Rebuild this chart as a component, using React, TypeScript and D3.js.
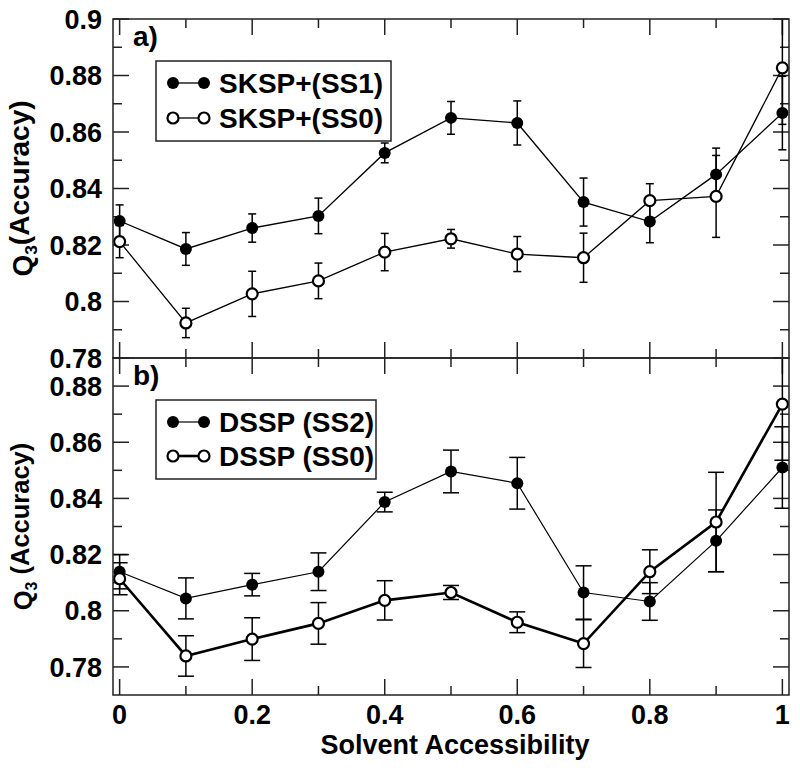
import React from "react";
import * as d3 from "d3";

// solvent accessibility bins
const accessibility = [0, 0.1, 0.2, 0.3, 0.4, 0.5, 0.6, 0.7, 0.8, 0.9, 1.0];

// panel a)
const sksp1 = [0.8285, 0.8186, 0.826, 0.8303, 0.8526, 0.865, 0.8632, 0.8352, 0.8283, 0.845, 0.8667];
const sksp1Err = [0.0057, 0.0058, 0.005, 0.0063, 0.0035, 0.0058, 0.0078, 0.0085, 0.0075, 0.0093, 0.013];
const sksp0 = [0.8212, 0.7924, 0.8027, 0.8073, 0.8175, 0.8222, 0.8168, 0.8155, 0.8357, 0.8372, 0.8827];
const sksp0Err = [0.0057, 0.0052, 0.008, 0.0063, 0.0066, 0.0033, 0.0062, 0.0087, 0.006, 0.0145, 0.02];

// panel b)
const dssp2 = [0.8139, 0.8044, 0.8093, 0.8139, 0.8387, 0.8496, 0.8454, 0.8065, 0.8033, 0.8249, 0.851];
const dssp2Err = [0.0061, 0.0073, 0.004, 0.0067, 0.0035, 0.0076, 0.0092, 0.0095, 0.0067, 0.011, 0.0145];
const dssp0 = [0.8114, 0.7839, 0.7899, 0.7955, 0.8037, 0.8065, 0.7959, 0.7883, 0.8139, 0.8316, 0.8736];
const dssp0Err = [0.0057, 0.0072, 0.0076, 0.0074, 0.007, 0.0025, 0.0037, 0.0085, 0.0078, 0.0177, 0.02];

const xTicks = [0, 0.2, 0.4, 0.6, 0.8, 1];
const xMinor = [0.1, 0.3, 0.5, 0.7, 0.9];
const yTicksA = [0.78, 0.8, 0.82, 0.84, 0.86, 0.88, 0.9];
const yTicksB = [0.78, 0.8, 0.82, 0.84, 0.86, 0.88];

const W = 800;
const H = 771;
const left = 113;
const right = 789;
const font = "'Liberation Sans', Arial, Helvetica, sans-serif";
const fmt = (v: number) => String(+v.toFixed(2));

const x = d3.scaleLinear().domain([-0.01, 1.01]).range([left, right]);

interface Series {
  name: string;
  values: number[];
  err: number[];
  filled: boolean;
  width: number;
}

interface PanelProps {
  id: string;
  top: number;
  bottom: number;
  domain: [number, number];
  ticks: number[];
  series: Series[];
  cap: number;
  label: string;
  title: string;
  titleSize: number;
  legendBox: [number, number, number, number];
  legendRows: number[];
  showX: boolean;
}

function Panel(p: PanelProps) {
  const y = d3.scaleLinear().domain(p.domain).range([p.bottom, p.top]);
  const minor = d3.range(Math.round(p.domain[0] * 100), Math.round(p.domain[1] * 100) + 1)
    .map(v => v / 100)
    .filter(v => Math.round(v * 100) % 2 === 1 && v > p.domain[0] + 1e-6 && v < p.domain[1] - 1e-6);
  const line = d3.line<number>().x((_, i) => x(accessibility[i])).y(d => y(d));
  const stroke = "#222";
  const [lx0, ly0, lx1, ly1] = p.legendBox;
  return (
    <g>
      <defs>
        <clipPath id={p.id}>
          <rect x={left} y={p.top} width={right - left} height={p.bottom - p.top} />
        </clipPath>
      </defs>
      {/* ticks */}
      <g stroke={stroke} strokeWidth={1.5}>
        {xTicks.map(t => (
          <g key={"xt" + t}>
            <line x1={x(t)} x2={x(t)} y1={p.bottom} y2={p.bottom - 16} />
            <line x1={x(t)} x2={x(t)} y1={p.top} y2={p.top + 16} />
          </g>
        ))}
        {xMinor.map(t => (
          <g key={"xm" + t}>
            <line x1={x(t)} x2={x(t)} y1={p.bottom} y2={p.bottom - 9} />
            <line x1={x(t)} x2={x(t)} y1={p.top} y2={p.top + 9} />
          </g>
        ))}
        {p.ticks.map(t => (
          <g key={"yt" + t}>
            <line x1={left} x2={left + 16} y1={y(t)} y2={y(t)} />
            <line x1={right} x2={right - 16} y1={y(t)} y2={y(t)} />
          </g>
        ))}
        {minor.map(t => (
          <g key={"ym" + t}>
            <line x1={left} x2={left + 9} y1={y(t)} y2={y(t)} />
            <line x1={right} x2={right - 9} y1={y(t)} y2={y(t)} />
          </g>
        ))}
      </g>
      {/* data */}
      <g clipPath={`url(#${p.id})`}>
        {p.series.map(s => (
          <g key={s.name}>
            <g stroke="#000" strokeWidth={1.5}>
              {s.values.map((v, i) => {
                const cx = x(accessibility[i]);
                const y0 = y(v - s.err[i]);
                const y1 = y(v + s.err[i]);
                return (
                  <g key={i}>
                    <line x1={cx} x2={cx} y1={y0} y2={y1} />
                    <line x1={cx - p.cap} x2={cx + p.cap} y1={y0} y2={y0} />
                    <line x1={cx - p.cap} x2={cx + p.cap} y1={y1} y2={y1} />
                  </g>
                );
              })}
            </g>
            <path d={line(s.values) || ""} fill="none" stroke="#000" strokeWidth={s.width} />
          </g>
        ))}
        {p.series.map(s => (
          <g key={s.name + "m"}>
            {s.values.map((v, i) => (
              <circle key={i} cx={x(accessibility[i])} cy={y(v)} r={s.filled ? 6 : 5.5}
                fill={s.filled ? "#000" : "#fff"} stroke="#000" strokeWidth={s.filled ? 0 : 2.2} />
            ))}
          </g>
        ))}
      </g>
      {/* frame */}
      <rect x={left} y={p.top} width={right - left} height={p.bottom - p.top} fill="none" stroke={stroke} strokeWidth={1.5} />
      {/* y tick labels */}
      <g fontFamily={font} fontWeight="bold" fontSize={27} fill="#000" textAnchor="end">
        {p.ticks.map(t => (
          <text key={t} x={102} y={y(t)} dy="0.36em">{fmt(t)}</text>
        ))}
      </g>
      {p.showX && (
        <g fontFamily={font} fontWeight="bold" fontSize={27} fill="#000" textAnchor="middle">
          {xTicks.map(t => (
            <text key={t} x={x(t)} y={724}>{fmt(t)}</text>
          ))}
        </g>
      )}
      <text x={133} y={p.top + 27} fontFamily={font} fontWeight="bold" fontSize={28}>{p.label}</text>
      {/* y title */}
      <text transform={`translate(32,${(p.top + p.bottom) / 2}) rotate(-90)`} textAnchor="middle"
        fontFamily={font} fontWeight="bold" fontSize={p.titleSize}>
        Q<tspan fontSize={p.titleSize * 0.62} dy="0.3em">3</tspan><tspan dy="-0.3em">{p.title}</tspan>
      </text>
      {/* legend */}
      <rect x={lx0} y={ly0} width={lx1 - lx0} height={ly1 - ly0} fill="#fff" stroke={stroke} strokeWidth={1.5} />
      {p.series.map((s, i) => (
        <g key={s.name + "l"}>
          <line x1={173} x2={204} y1={p.legendRows[i]} y2={p.legendRows[i]} stroke="#000" strokeWidth={s.width} />
          {[173, 204].map(cx => (
            <circle key={cx} cx={cx} cy={p.legendRows[i]} r={s.filled ? 6 : 5.5}
              fill={s.filled ? "#000" : "#fff"} stroke="#000" strokeWidth={s.filled ? 0 : 2.2} />
          ))}
          <text x={219} y={p.legendRows[i] + 9.5} fontFamily={font} fontWeight="bold" fontSize={28}>{s.name}</text>
        </g>
      ))}
    </g>
  );
}

export default function App() {
  return (
    <svg width={W} height={H} style={{ position: "absolute", left: 0, top: 0, background: "#fff" }}>
      <Panel
        id="clipA" top={19} bottom={358} domain={[0.78, 0.9]} ticks={yTicksA} cap={4}
        label="a)" title="(Accuracy)" titleSize={28}
        legendBox={[156, 61, 391, 141]} legendRows={[83, 118]} showX={false}
        series={[
          { name: "SKSP+(SS1)", values: sksp1, err: sksp1Err, filled: true, width: 1.3 },
          { name: "SKSP+(SS0)", values: sksp0, err: sksp0Err, filled: false, width: 1.3 },
        ]}
      />
      <Panel
        id="clipB" top={358} bottom={695} domain={[0.77, 0.89]} ticks={yTicksB} cap={8}
        label="b)" title=" (Accuracy)" titleSize={25.5}
        legendBox={[156, 400, 376, 479]} legendRows={[422, 456]} showX={true}
        series={[
          { name: "DSSP (SS2)", values: dssp2, err: dssp2Err, filled: true, width: 1.2 },
          { name: "DSSP (SS0)", values: dssp0, err: dssp0Err, filled: false, width: 2.6 },
        ]}
      />
      <text x={(left + right) / 2 + 4} y={754} textAnchor="middle" fontFamily={font} fontWeight="bold" fontSize={27}>
        Solvent Accessibility
      </text>
    </svg>
  );
}
